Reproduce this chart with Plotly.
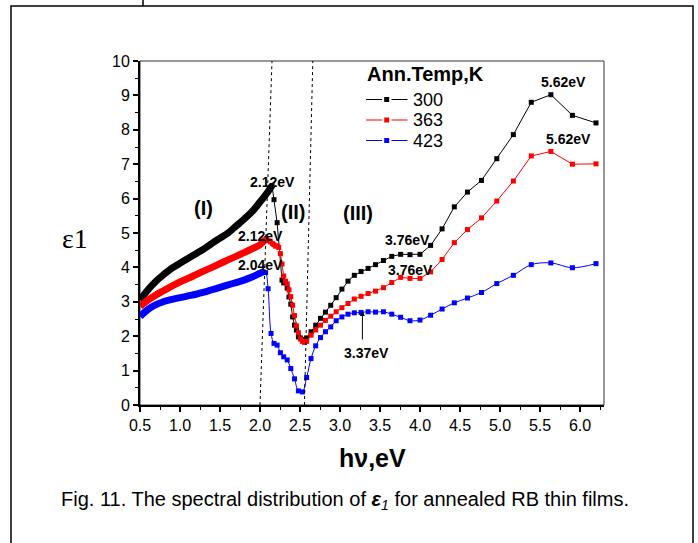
import plotly.graph_objects as go

# ---------------- data ----------------
# dense low-energy part of each curve (eV, epsilon_1)
x_dense_300 = [0.5, 0.6, 0.7, 0.8, 0.9, 1.0, 1.1, 1.2, 1.3, 1.4, 1.5, 1.6, 1.7, 1.8, 1.9, 2.0, 2.1, 2.15]
y_dense_300 = [3.05, 3.35, 3.6, 3.8, 3.98, 4.12, 4.26, 4.4, 4.54, 4.7, 4.85, 5.0, 5.2, 5.4, 5.62, 5.9, 6.2, 6.38]

x_dense_363 = [0.5, 0.6, 0.7, 0.8, 0.9, 1.0, 1.1, 1.2, 1.3, 1.4, 1.5, 1.6, 1.7, 1.8, 1.9, 2.0, 2.06]
y_dense_363 = [2.87, 3.05, 3.2, 3.33, 3.46, 3.58, 3.68, 3.79, 3.9, 4.0, 4.11, 4.22, 4.32, 4.43, 4.54, 4.66, 4.8]

x_dense_423 = [0.5, 0.6, 0.7, 0.8, 0.9, 1.0, 1.1, 1.2, 1.3, 1.4, 1.5, 1.6, 1.7, 1.8, 1.9, 2.0, 2.04]
y_dense_423 = [2.57, 2.78, 2.92, 3.01, 3.07, 3.12, 3.17, 3.22, 3.28, 3.35, 3.42, 3.49, 3.56, 3.63, 3.72, 3.83, 3.87]

# sparse high-energy part (individual markers)
x_300 = [2.15, 2.175, 2.214, 2.275, 2.296, 2.318, 2.34, 2.362, 2.385, 2.408, 2.431, 2.455, 2.48, 2.505,
         2.53, 2.556, 2.583, 2.638, 2.696, 2.756, 2.818, 2.884, 2.952, 3.024, 3.1, 3.179, 3.263, 3.351,
         3.444, 3.543, 3.647, 3.758, 3.875, 4.0, 4.133, 4.276, 4.429, 4.593, 4.769, 4.96, 5.167, 5.391,
         5.636, 5.905, 6.2]
y_300 = [6.38, 5.97, 5.3, 3.63, 3.55, 3.57, 3.4, 3.14, 2.93, 2.56, 2.32, 2.18, 1.98, 1.95,
         1.9, 1.9, 1.95, 2.13, 2.32, 2.52, 2.7, 2.9, 3.12, 3.37, 3.6, 3.77, 3.88, 3.97,
         4.08, 4.2, 4.32, 4.38, 4.37, 4.38, 4.64, 5.12, 5.76, 6.19, 6.53, 7.16, 7.86, 8.8,
         9.02, 8.42, 8.2]

x_363 = [2.06, 2.08, 2.1, 2.13, 2.157, 2.175, 2.195, 2.214, 2.234, 2.255, 2.275, 2.296, 2.318, 2.34,
         2.362, 2.385, 2.408, 2.431, 2.455, 2.48, 2.505, 2.53, 2.556, 2.583, 2.638, 2.696, 2.756, 2.818,
         2.884, 2.952, 3.024, 3.1, 3.179, 3.263, 3.351, 3.444, 3.543, 3.647, 3.758, 3.875, 4.0, 4.133,
         4.276, 4.429, 4.593, 4.769, 4.96, 5.167, 5.391, 5.636, 5.905, 6.2]
y_363 = [4.8, 4.84, 4.78, 4.74, 4.69, 4.66, 4.62, 4.62, 4.58, 4.4, 4.1, 3.75, 3.6, 3.52,
         3.35, 3.15, 2.9, 2.6, 2.3, 2.1, 1.92, 1.85, 1.82, 1.85, 2.03, 2.18, 2.32, 2.46,
         2.58, 2.71, 2.83, 2.95, 3.08, 3.16, 3.24, 3.31, 3.41, 3.56, 3.71, 3.68, 3.68, 3.87,
         4.23, 4.72, 5.1, 5.44, 5.93, 6.51, 7.24, 7.37, 7.0, 7.01]

x_423 = [2.04, 2.07, 2.101, 2.138, 2.175, 2.214, 2.255, 2.296, 2.34, 2.385, 2.431, 2.48, 2.53, 2.583,
         2.638, 2.696, 2.756, 2.818, 2.884, 2.952, 3.024, 3.1, 3.179, 3.263, 3.351, 3.444, 3.543, 3.647,
         3.758, 3.875, 4.0, 4.133, 4.276, 4.429, 4.593, 4.769, 4.96, 5.167, 5.391, 5.636, 5.905, 6.2]
y_423 = [3.87, 3.85, 3.38, 2.08, 1.79, 1.74, 1.52, 1.4, 1.31, 1.06, 0.76, 0.41, 0.38, 0.8,
         1.35, 1.72, 1.96, 2.13, 2.27, 2.45, 2.56, 2.64, 2.68, 2.69, 2.71, 2.7, 2.71, 2.64,
         2.55, 2.45, 2.47, 2.61, 2.79, 2.97, 3.11, 3.27, 3.53, 3.77, 4.08, 4.13, 3.99, 4.11]

series_names = ["300", "363", "423"]
series_colors = ["#000000", "#ff0000", "#0000ff"]
legend_title = "Ann.Temp,K"

# region boundaries (bottom x at eps=0, top x at eps=10)
boundary_lines = [(2.0, 2.15), (2.555, 2.66)]

x_tick_vals = [0.5, 1.0, 1.5, 2.0, 2.5, 3.0, 3.5, 4.0, 4.5, 5.0, 5.5, 6.0]
x_tick_text = ["0.5", "1.0", "1.5", "2.0", "2.5", "3.0", "3.5", "4.0", "4.5", "5.0", "5.5", "6.0"]
y_tick_vals = [0, 1, 2, 3, 4, 5, 6, 7, 8, 9, 10]

# ---------------- layout geometry ----------------
W, H = 698, 543
ML, MR, MT, MB = 140, 94, 61, 138
PW, PH = W - ML - MR, H - MT - MB


def px_x(p):
    return (p - ML) / PW


def px_y(p):
    return (H - MB - p) / PH


FONT = "Liberation Sans, Arial, sans-serif"

fig = go.Figure()

dense = [(x_dense_300, y_dense_300), (x_dense_363, y_dense_363), (x_dense_423, y_dense_423)]
sparse = [(x_300, y_300), (x_363, y_363), (x_423, y_423)]
shapes_line = ["linear", "linear", "spline"]

for (xd, yd), col in zip(dense, series_colors):
    fig.add_trace(go.Scatter(x=xd, y=yd, mode="lines", showlegend=False, hoverinfo="skip",
                             line=dict(color=col, width=7, shape="spline")))

for (xs, ys), col, nm, ls in zip(sparse, series_colors, series_names, shapes_line):
    fig.add_trace(go.Scatter(x=xs, y=ys, mode="lines+markers", name=nm, showlegend=False,
                             line=dict(color=col, width=1, shape=ls),
                             marker=dict(symbol="square", size=5, color=col, line=dict(width=0))))

shapes = []
# region boundary dotted lines
for xb, xt in boundary_lines:
    shapes.append(dict(type="line", xref="x", yref="y", x0=xb, y0=0, x1=xt, y1=10,
                       line=dict(color="black", width=1, dash="dot")))
# plot box (thin top/right)
shapes.append(dict(type="rect", xref="paper", yref="paper", x0=0, y0=0, x1=1, y1=1,
                   line=dict(color="#333333", width=1), layer="below"))
# outer frame
shapes.append(dict(type="rect", xref="paper", yref="paper",
                   x0=px_x(11), x1=px_x(693), y0=px_y(560), y1=px_y(6),
                   line=dict(color="black", width=1.5)))
shapes.append(dict(type="line", xref="paper", yref="paper",
                   x0=px_x(143), x1=px_x(143), y0=px_y(0), y1=px_y(6),
                   line=dict(color="black", width=1.5)))

annotations = []

# ---- hand-built legend ----
leg_rows = [99.5, 120, 140.5]
for nm, col, ry in zip(series_names, series_colors, leg_rows):
    shapes.append(dict(type="line", xref="paper", yref="paper",
                       x0=px_x(366), x1=px_x(382), y0=px_y(ry), y1=px_y(ry),
                       line=dict(color=col, width=1)))
    shapes.append(dict(type="line", xref="paper", yref="paper",
                       x0=px_x(391.5), x1=px_x(407.5), y0=px_y(ry), y1=px_y(ry),
                       line=dict(color=col, width=1)))
    shapes.append(dict(type="rect", xref="paper", yref="paper",
                       x0=px_x(384.2), x1=px_x(389.2), y0=px_y(ry + 2.5), y1=px_y(ry - 2.5),
                       line=dict(width=0), fillcolor=col))
    annotations.append(dict(text=nm, x=px_x(411), y=px_y(ry), xref="paper", yref="paper",
                            showarrow=False, xanchor="left", yanchor="middle",
                            font=dict(family=FONT, size=18, color="black")))
annotations.append(dict(text=legend_title, x=px_x(365), y=px_y(74.5), xref="paper", yref="paper",
                        showarrow=False, xanchor="left", yanchor="middle",
                        font=dict(family=FONT, size=20, color="black", weight="bold")))

lab_font = dict(family=FONT, size=14, color="black", weight="bold")
labels = [
    ("2.12eV", 2.15, 6.48),
    ("2.12eV", 2.01, 4.91),
    ("2.04eV", 2.01, 4.07),
    ("3.76eV", 3.84, 4.79),
    ("3.76eV", 3.875, 3.92),
    ("3.37eV", 3.325, 1.51),
    ("5.62eV", 5.79, 9.38),
    ("5.62eV", 5.85, 7.73),
]
for t, x, y in labels:
    annotations.append(dict(text=t, x=x, y=y, xref="x", yref="y", showarrow=False,
                            xanchor="center", yanchor="middle", font=lab_font))

reg_font = dict(family=FONT, size=20, color="black", weight="bold")
for t, x, y in [("(I)", 1.29, 5.72), ("(II)", 2.41, 5.61), ("(III)", 3.23, 5.58)]:
    annotations.append(dict(text=t, x=x, y=y, xref="x", yref="y", showarrow=False,
                            xanchor="center", yanchor="middle", font=reg_font))

# arrow for 3.37 eV
annotations.append(dict(text="", x=3.28, y=2.73, ax=3.28, ay=1.86, xref="x", yref="y",
                        axref="x", ayref="y", showarrow=True, arrowhead=2, arrowsize=1,
                        arrowwidth=1, arrowcolor="black"))

# axis titles and caption
annotations.append(dict(text="hν,eV", x=px_x(372), y=px_y(458), xref="paper", yref="paper",
                        showarrow=False, xanchor="center", yanchor="middle",
                        font=dict(family=FONT, size=25, color="black", weight="bold")))
annotations.append(dict(text="ε1", x=px_x(75), y=px_y(238), xref="paper", yref="paper",
                        showarrow=False, xanchor="center", yanchor="middle",
                        font=dict(family="Liberation Serif, Times New Roman, serif", size=28, color="black")))
annotations.append(dict(text="Fig. 11. The spectral distribution of <b><i>ε</i></b><sub><i>1</i></sub> for annealed RB thin films.",
                        x=px_x(345), y=px_y(500), xref="paper", yref="paper",
                        showarrow=False, xanchor="center", yanchor="middle",
                        font=dict(family=FONT, size=20, color="black")))

fig.update_layout(
    width=W, height=H, autosize=False,
    margin=dict(l=ML, r=MR, t=MT, b=MB, pad=0),
    paper_bgcolor="white", plot_bgcolor="white",
    font=dict(family=FONT, color="black"),
    shapes=shapes, annotations=annotations, showlegend=False,
    xaxis=dict(range=[0.5, 6.3], showgrid=False, zeroline=False,
               tickmode="array", tickvals=x_tick_vals, ticktext=x_tick_text,
               ticks="outside", ticklen=5, tickwidth=1.5, tickcolor="black",
               tickfont=dict(family=FONT, size=16, color="black"),
               showline=True, linecolor="black", linewidth=2,
               minor=dict(dtick=0.25, tick0=0.5, ticks="outside", ticklen=3, tickwidth=1, tickcolor="black")),
    yaxis=dict(range=[0, 10], showgrid=False, zeroline=False,
               tickmode="array", tickvals=y_tick_vals,
               ticks="outside", ticklen=5, tickwidth=1.5, tickcolor="black",
               tickfont=dict(family=FONT, size=16, color="black"),
               showline=True, linecolor="black", linewidth=2,
               minor=dict(dtick=0.5, tick0=0, ticks="outside", ticklen=3, tickwidth=1, tickcolor="black")),
)

fig.write_html("out.html")
